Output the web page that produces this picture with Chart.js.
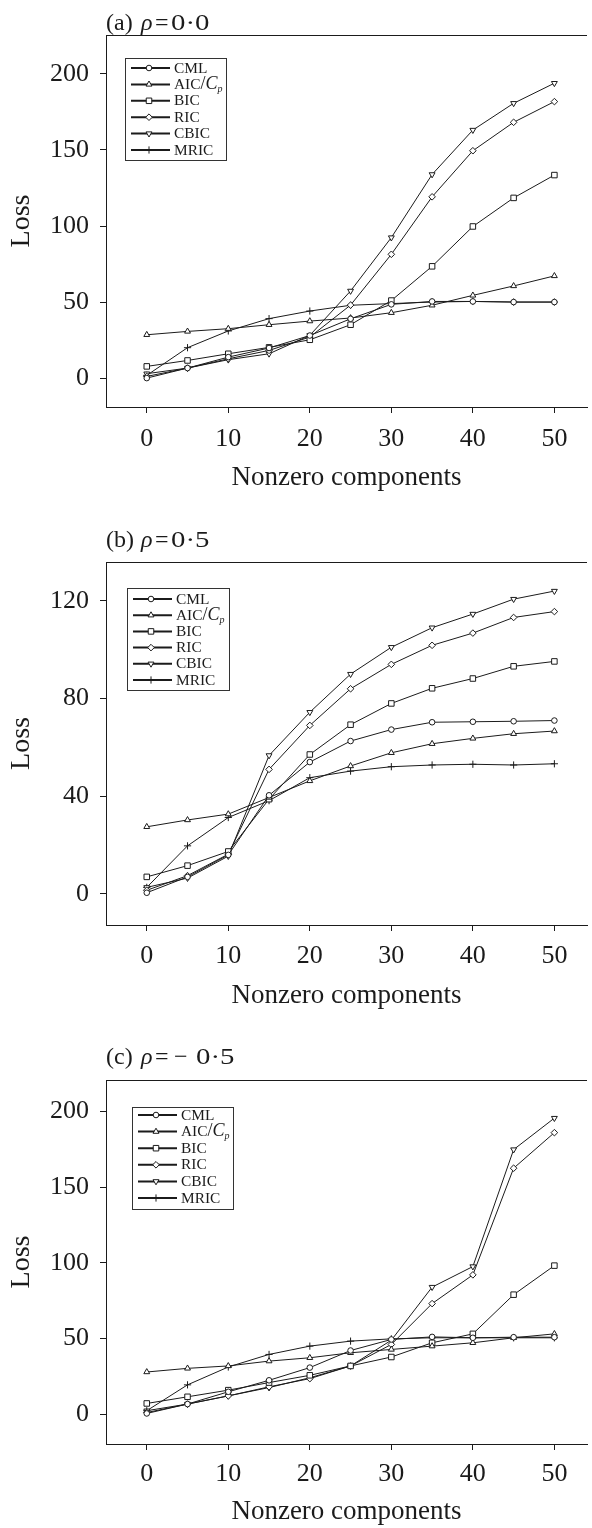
<!DOCTYPE html>
<html>
<head>
<meta charset="utf-8">
<script src="https://cdn.jsdelivr.net/npm/chart.js@4.4.1/dist/chart.umd.min.js"></script>
<style>
  html, body { margin: 0; padding: 0; background: #fff; }
  body { width: 592px; height: 1528px; position: relative; overflow: hidden; }
  canvas { position: absolute; left: 0; }
</style>
</head>
<body>
<canvas id="chartA" width="592" height="500" style="top:0px"></canvas>
<canvas id="chartB" width="592" height="520" style="top:500px"></canvas>
<canvas id="chartC" width="592" height="508" style="top:1020px"></canvas>
<script>
// x values (number of nonzero components) and tick labels
const components = [0, 5, 10, 15, 20, 25, 30, 35, 40, 45, 50];
const xTicks = [0, 10, 20, 30, 40, 50];
const seriesNames = ["CML", "AIC/Cp", "BIC", "RIC", "CBIC", "MRIC"];

// (a) rho = 0.0
const cmlA  = [0, 6.6, 13.8, 19.8, 28, 39, 48.5, 50.4, 50.4, 50, 50];
const aicA  = [28.5, 30.7, 32.5, 35.1, 37.5, 39.5, 43, 47.9, 54.4, 60.6, 67.2];
const bicA  = [7.7, 11.6, 16, 20.2, 25.2, 35.1, 51, 73.5, 99.7, 118.5, 133.5];
const ricA  = [1.1, 6.6, 12.7, 18.2, 27, 48, 81.4, 119.2, 149.5, 168.2, 181.8];
const cbicA = [2.9, 6.6, 12.1, 16, 28.1, 57.3, 92.4, 133.9, 163.1, 180.7, 193.9];
const mricA = [1.8, 20, 31, 39.1, 44.1, 47.9, 49, 50, 50.4, 50, 50];
const yTicksA = [0, 50, 100, 150, 200];

// (b) rho = 0.5
const cmlB  = [0.5, 7, 16, 40.4, 54, 62.6, 67.3, 70.3, 70.5, 70.7, 71];
const aicB  = [27.5, 30.3, 32.7, 39.5, 46.3, 52.4, 57.8, 61.5, 63.7, 65.6, 66.7];
const bicB  = [7, 11.6, 17.4, 38.8, 57.1, 69.3, 78, 84.2, 88.2, 93.2, 95.2];
const ricB  = [1.5, 7.5, 16.3, 51, 69, 84, 94, 101.8, 106.8, 113.2, 115.6];
const cbicB = [2.7, 6.5, 15.5, 56.7, 74.4, 90, 101, 109, 114.6, 120.7, 124];
const mricB = [2.7, 19.7, 31.3, 38.2, 47.6, 50.3, 52.1, 52.8, 53.1, 52.8, 53.3];
const yTicksB = [0, 40, 80, 120];

// (c) rho = -0.5
const cmlC  = [0.4, 6.6, 14.7, 22.3, 30.7, 42, 49.3, 51, 50.4, 50.8, 50.8];
const aicC  = [27.8, 30.2, 31.8, 35, 37.2, 40.5, 42.7, 44.9, 47.1, 50.4, 53];
const bicC  = [7, 11.4, 15.8, 20.8, 25.6, 31.8, 37.7, 47.1, 53, 78.9, 98.1];
const ricC  = [1, 6.6, 12, 18, 23.4, 31.8, 46, 73, 92, 162.5, 186];
const cbicC = [2.2, 6.6, 12, 17.5, 24, 31.8, 48.8, 83.9, 97.5, 174.8, 195.6];
const mricC = [2.2, 19.3, 31.1, 39.4, 44.9, 48.2, 49.7, 50.4, 50.4, 50.4, 50.4];
const yTicksC = [0, 50, 100, 150, 200];

const ink = "#1b1b1b";
const serif = "'Liberation Serif', 'Times New Roman', serif";

// marker look of each series, same order as seriesNames
const markers = [
  { pointStyle: "circle",   radius: 2.8, rotation: 0 },
  { pointStyle: "triangle", radius: 3.4, rotation: 0 },
  { pointStyle: "rect",     radius: 3.9, rotation: 0 },
  { pointStyle: "rectRot",  radius: 3.3, rotation: 0 },
  { pointStyle: "triangle", radius: 3.4, rotation: 180 },
  { pointStyle: "cross",    radius: 3.6, rotation: 0 }
];

function drawMarker(ctx, m, x, y) {
  ctx.fillStyle = "#fff";
  ctx.strokeStyle = ink;
  ctx.lineWidth = 1;
  Chart.helpers.drawPoint(ctx, { pointStyle: m.pointStyle, radius: m.radius, rotation: m.rotation, borderWidth: 1 }, x, y);
}

// text slightly widened, the printed figure is stretched sideways
function wideText(ctx, t, x, y, sx) {
  ctx.save();
  ctx.translate(x, y);
  ctx.scale(sx, 1);
  ctx.fillText(t, 0, 0);
  ctx.restore();
}

// top frame line, panel title and the boxed legend
const decorPlugin = {
  id: "decor",
  afterDatasetsDraw(chart, args, opts) {
    const { ctx, chartArea } = chart;
    ctx.save();
    ctx.strokeStyle = ink;
    ctx.lineWidth = 1;
    ctx.beginPath();
    ctx.moveTo(chartArea.left, chartArea.top + 0.5);
    ctx.lineTo(chartArea.right, chartArea.top + 0.5);
    ctx.stroke();

    // title
    ctx.fillStyle = ink;
    ctx.textBaseline = "alphabetic";
    ctx.textAlign = "left";
    opts.title.forEach(p => {
      ctx.font = (p.it ? "italic " : "") + "24px " + serif;
      wideText(ctx, p.t, p.x, opts.titleY, p.sx || 1);
    });

    // legend
    const L = opts.legend;
    ctx.fillStyle = "#fff";
    ctx.fillRect(L.x, L.y, L.w, L.h);
    ctx.strokeStyle = "#333";
    ctx.strokeRect(L.x + 0.5, L.y + 0.5, L.w, L.h);
    seriesNames.forEach((name, i) => {
      const y = L.y + L.first + i * L.step;
      ctx.strokeStyle = ink;
      ctx.lineWidth = 2;
      ctx.beginPath();
      ctx.moveTo(L.x + 6, y);
      ctx.lineTo(L.x + 45, y);
      ctx.stroke();
      drawMarker(ctx, markers[i], L.x + 24, y);
      ctx.fillStyle = ink;
      ctx.textBaseline = "middle";
      let tx = L.x + 49;
      if (name === "AIC/Cp") {
        ctx.font = "14px " + serif;
        wideText(ctx, "AIC", tx, y + 1, 1.1);
        tx += ctx.measureText("AIC").width * 1.1;
        ctx.font = "18px " + serif;
        ctx.fillText("/", tx, y);
        tx += ctx.measureText("/").width;
        ctx.font = "italic 18px " + serif;
        ctx.fillText("C", tx, y);
        tx += ctx.measureText("C").width;
        ctx.font = "italic 10px " + serif;
        ctx.fillText("p", tx, y + 5);
      } else {
        ctx.font = "14px " + serif;
        wideText(ctx, name, tx, y + 1, 1.1);
      }
    });
    ctx.restore();
  }
};

function makePanel(id, lay, series, yTicks, yMin, yMax) {
  const datasets = series.map((vals, i) => ({
    label: seriesNames[i],
    data: vals.map((v, k) => ({ x: components[k], y: v })),
    borderColor: ink,
    borderWidth: 1,
    pointStyle: markers[i].pointStyle,
    pointRadius: markers[i].radius,
    pointRotation: markers[i].rotation,
    pointBackgroundColor: "#fff",
    pointBorderColor: ink,
    pointBorderWidth: 1,
    tension: 0,
    fill: false
  }));

  return new Chart(document.getElementById(id), {
    type: "line",
    data: { datasets: datasets },
    plugins: [decorPlugin],
    options: {
      responsive: false,
      animation: false,
      events: [],
      layout: { padding: { top: lay.top, left: 0, right: 0, bottom: 0 } },
      plugins: {
        legend: { display: false },
        tooltip: { enabled: false },
        decor: { title: lay.title, titleY: lay.titleY, legend: lay.legend }
      },
      scales: {
        x: {
          type: "linear",
          min: -5,
          max: 54,
          afterBuildTicks: s => { s.ticks = xTicks.map(v => ({ value: v })); },
          afterFit: s => { s.height = lay.xHeight; s.paddingLeft = 0; s.paddingRight = 0; },
          grid: { display: true, drawOnChartArea: false, drawTicks: true, tickLength: 6, color: ink },
          border: { display: true, color: ink, width: 1 },
          ticks: { color: ink, padding: lay.xPad, maxRotation: 0, font: { family: serif, size: 26 } },
          title: { display: true, text: "Nonzero components", color: ink, font: { family: serif, size: 27 }, padding: { top: 0, bottom: lay.xTitlePad } }
        },
        y: {
          type: "linear",
          min: yMin,
          max: yMax,
          afterBuildTicks: s => { s.ticks = yTicks.map(v => ({ value: v })); },
          afterFit: s => { s.width = 106; s.paddingTop = 0; s.paddingBottom = 0; },
          grid: { display: true, drawOnChartArea: false, drawTicks: true, tickLength: 6, color: ink },
          border: { display: true, color: ink, width: 1 },
          ticks: { color: ink, padding: 11, font: { family: serif, size: 26 } },
          title: { display: true, text: "Loss", color: ink, font: { family: serif, size: 28 }, padding: { top: 5, bottom: 0 } }
        }
      }
    }
  });
}

makePanel("chartA", {
  top: 35, xHeight: 93, xPad: 11, xTitlePad: 6,
  titleY: 30,
  title: [{ t: "(a)", x: 106 }, { t: "\u03C1", x: 141, it: true }, { t: "=", x: 155 },
          { t: "0\u00B70", x: 171, sx: 1.2 }],
  legend: { x: 125, y: 58, w: 101, h: 102, first: 10, step: 16.4 }
}, [cmlA, aicA, bicA, ricA, cbicA, mricA], yTicksA, -19, 225.6);

makePanel("chartB", {
  top: 62, xHeight: 95, xPad: 10, xTitlePad: 8,
  titleY: 47,
  title: [{ t: "(b)", x: 106 }, { t: "\u03C1", x: 141, it: true }, { t: "=", x: 155 },
          { t: "0\u00B75", x: 171, sx: 1.2 }],
  legend: { x: 127, y: 88, w: 102, h: 102, first: 11, step: 16.2 }
}, [cmlB, aicB, bicB, ricB, cbicB, mricB], yTicksB, -12.7, 135.9);

makePanel("chartC", {
  top: 60, xHeight: 84, xPad: 9, xTitlePad: 0,
  titleY: 44,
  title: [{ t: "(c)", x: 106 }, { t: "\u03C1", x: 141, it: true }, { t: "=", x: 155 },
          { t: "\u2212", x: 174 }, { t: "0\u00B75", x: 196, sx: 1.2 }],
  legend: { x: 132, y: 87, w: 101, h: 102, first: 8, step: 16.6 }
}, [cmlC, aicC, bicC, ricC, cbicC, mricC], yTicksC, -19.8, 220.8);
</script>
</body>
</html>
